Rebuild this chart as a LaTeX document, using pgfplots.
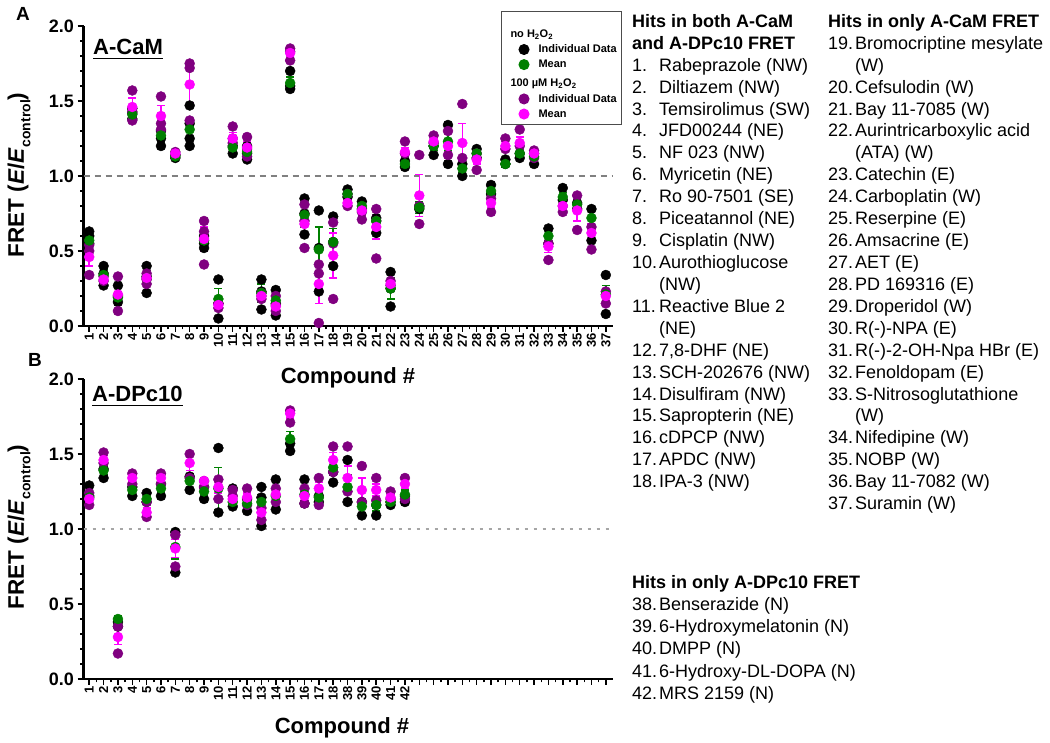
\documentclass[border=0pt]{standalone}
\usepackage{pgfplots}
\usepackage{pgfplotstable}
\pgfplotsset{compat=1.18}
\usepackage{fontspec}
\setmainfont{Liberation Sans}
\definecolor{mygreen}{RGB}{0,128,0}
\definecolor{mypurple}{RGB}{128,0,128}
\definecolor{mymag}{RGB}{255,0,255}

% ---------- Panel A data ----------
\pgfplotstableread{
x y
1 0.63
1 0.60
1 0.55
2 0.40
2 0.35
2 0.27
3 0.27
3 0.20
3 0.16
4 1.45
4 1.42
4 1.38
5 0.40
5 0.33
5 0.22
6 1.30
6 1.25
6 1.20
7 1.14
7 1.12
8 1.47
8 1.35
8 1.25
8 1.20
9 0.60
9 0.55
9 0.52
10 0.31
10 0.15
10 0.05
11 1.20
11 1.15
12 1.20
12 1.15
12 1.11
13 0.31
13 0.23
13 0.11
14 0.24
14 0.15
14 0.07
15 1.70
15 1.60
15 1.58
16 0.85
16 0.75
16 0.61
17 0.77
17 0.52
17 0.23
18 0.73
18 0.56
18 0.40
19 0.91
19 0.86
20 0.83
20 0.78
21 0.72
21 0.62
22 0.36
22 0.25
22 0.13
23 1.10
23 1.06
24 0.80
24 0.78
25 1.20
25 1.14
26 1.34
26 1.08
27 1.08
27 1.00
28 1.18
28 1.12
29 0.94
29 0.88
30 1.11
30 1.08
31 1.15
31 1.12
32 1.15
32 1.08
33 0.65
33 0.55
34 0.92
34 0.84
35 0.82
35 0.78
36 0.78
36 0.57
37 0.34
37 0.08
}\Ablack

\pgfplotstableread{
x y
1 0.54
1 0.50
1 0.34
2 0.33
2 0.30
3 0.33
3 0.20
3 0.10
4 1.57
4 1.43
4 1.37
5 0.35
5 0.31
5 0.28
6 1.53
6 1.35
6 1.31
7 1.16
7 1.14
8 1.75
8 1.72
8 1.37
9 0.70
9 0.63
9 0.41
10 0.15
10 0.12
11 1.33
11 1.25
11 1.22
12 1.26
12 1.18
12 1.13
13 0.22
13 0.20
13 0.18
14 0.20
14 0.14
14 0.10
15 1.85
15 1.83
15 1.77
16 0.81
16 0.70
16 0.52
17 0.41
17 0.35
17 0.02
18 0.69
18 0.55
18 0.18
19 0.88
19 0.80
20 0.76
20 0.71
21 0.78
21 0.70
21 0.45
22 0.30
22 0.27
23 1.23
23 1.15
24 1.14
24 0.80
24 0.68
25 1.27
25 1.22
26 1.30
26 1.14
27 1.48
27 1.12
28 1.15
28 1.04
29 0.85
29 0.76
30 1.25
30 1.18
31 1.31
31 1.20
32 1.17
32 1.12
33 0.55
33 0.44
34 0.80
34 0.76
35 0.87
35 0.64
36 0.66
36 0.51
37 0.23
37 0.15
}\Apurple

\pgfplotstableread{
x y e
1 0.57 0.03
2 0.34 0.04
3 0.19 0.04
4 1.41 0.03
5 0.32 0.05
6 1.27 0.04
7 1.13 0.01
8 1.31 0.07
9 0.57 0.03
10 0.18 0.07
11 1.19 0.03
12 1.16 0.02
13 0.22 0.06
14 0.17 0.05
15 1.62 0.04
16 0.74 0.08
17 0.51 0.15
18 0.56 0.09
19 0.88 0.02
20 0.80 0.02
21 0.70 0.04
22 0.25 0.07
23 1.08 0.02
24 0.79 0.04
25 1.20 0.03
26 1.23 0.06
27 1.05 0.03
28 1.15 0.03
29 0.90 0.03
30 1.08 0.02
31 1.15 0.03
32 1.13 0.02
33 0.60 0.04
34 0.86 0.03
35 0.81 0.03
36 0.72 0.06
37 0.21 0.06
}\Agreen

\pgfplotstableread{
x y e
1 0.46 0.06
2 0.31 0.02
3 0.21 0.07
4 1.46 0.06
5 0.32 0.03
6 1.40 0.07
7 1.15 0.01
8 1.61 0.12
9 0.58 0.08
10 0.14 0.02
11 1.25 0.04
12 1.19 0.04
13 0.20 0.02
14 0.13 0.03
15 1.82 0.02
16 0.68 0.08
17 0.28 0.13
18 0.47 0.15
19 0.82 0.02
20 0.77 0.03
21 0.66 0.08
22 0.28 0.02
23 1.16 0.03
24 0.87 0.14
25 1.23 0.02
26 1.20 0.05
27 1.22 0.13
28 1.11 0.03
29 0.82 0.03
30 1.20 0.03
31 1.22 0.04
32 1.15 0.02
33 0.53 0.04
34 0.80 0.03
35 0.77 0.07
36 0.62 0.06
37 0.20 0.03
}\Amag

% ---------- Panel B data (positions 1..23 = compounds 1-18, 38-42) ----------
\pgfplotstableread{
x y
1 1.29
1 1.22
2 1.40
2 1.34
3 0.38
3 0.35
4 1.28
4 1.22
5 1.24
5 1.18
6 1.30
6 1.22
7 0.98
7 0.71
8 1.35
8 1.26
9 1.28
9 1.20
10 1.54
10 1.11
11 1.27
11 1.15
12 1.20
12 1.12
13 1.28
13 1.21
13 1.02
14 1.33
14 1.13
15 1.57
15 1.52
16 1.33
16 1.17
17 1.22
17 1.18
18 1.38
18 1.31
19 1.46
19 1.18
20 1.18
20 1.09
21 1.16
21 1.09
22 1.18
22 1.16
23 1.22
23 1.18
}\Bblack

\pgfplotstableread{
x y
1 1.24
1 1.16
2 1.51
2 1.44
3 0.35
3 0.17
4 1.37
4 1.30
5 1.18
5 1.08
6 1.37
6 1.30
7 0.96
7 0.75
8 1.50
8 1.34
9 1.32
9 1.28
10 1.33
10 1.20
11 1.26
11 1.22
12 1.27
12 1.16
13 1.14
13 1.06
14 1.27
14 1.18
15 1.79
15 1.71
16 1.27
16 1.17
17 1.34
17 1.16
18 1.55
18 1.38
19 1.55
19 1.25
20 1.42
20 1.18
21 1.34
21 1.19
22 1.25
22 1.20
23 1.34
23 1.20
}\Bpurple

\pgfplotstableread{
x y e
1 1.21 0.03
2 1.39 0.03
3 0.40 0.02
4 1.26 0.02
5 1.20 0.03
6 1.27 0.02
7 0.88 0.08
8 1.32 0.05
9 1.25 0.02
10 1.27 0.14
11 1.18 0.03
12 1.17 0.03
13 1.18 0.05
14 1.22 0.04
15 1.60 0.05
16 1.23 0.04
17 1.21 0.02
18 1.41 0.05
19 1.28 0.08
20 1.15 0.04
21 1.16 0.04
22 1.18 0.02
23 1.23 0.03
}\Bgreen

\pgfplotstableread{
x y e
1 1.20 0.02
2 1.46 0.03
3 0.28 0.05
4 1.34 0.02
5 1.11 0.03
6 1.34 0.02
7 0.87 0.06
8 1.44 0.05
9 1.32 0.02
10 1.28 0.04
11 1.20 0.03
12 1.21 0.03
13 1.11 0.03
14 1.23 0.03
15 1.77 0.03
16 1.22 0.03
17 1.27 0.04
18 1.46 0.05
19 1.34 0.08
20 1.26 0.08
21 1.26 0.04
22 1.21 0.02
23 1.30 0.03
}\Bmag

\pgfplotsset{
  panel/.style={
    scale only axis, width=529.5pt, height=300pt,
    xmin=0.6, xmax=37.5, ymin=0, ymax=2,
    axis x line*=bottom, axis y line*=left,
    axis line style={line width=2.5pt,-},
    clip=false,
    /pgf/number format/assume math mode=true,
    xtick={1,...,37}, minor x tick num=1,
    ytick={0,0.5,1,1.5,2}, minor y tick num=4,
    tick align=outside, major tick length=6pt, minor tick length=3.5pt,
    every tick/.style={black, line width=1.5pt},
    x tick label style={rotate=90, anchor=east, font=\fontsize{13}{14}\selectfont\bfseries, inner sep=1pt},
    y tick label style={font=\fontsize{18}{20}\selectfont\bfseries},
    yticklabel style={/pgf/number format/.cd, fixed, fixed zerofill, precision=1, assume math mode=true},
  },
  indiv/.style={only marks, mark=*, mark size=5pt},
  meanbar/.style={only marks, mark=*, mark size=5pt,
    error bars/y dir=both, error bars/y explicit,
    error bars/error bar style={line width=1.5pt},
    error bars/error mark options={rotate=90, mark size=4pt, line width=1.5pt}},
  legimg/.style={only marks, mark=*, mark size=5pt,
    legend image code/.code={\path (-19pt,0pt) (12pt,0pt); \draw[##1] plot coordinates {(0pt,0pt)};}},
}

\newcommand{\LF}{\fontsize{18}{22}\selectfont}
\newcommand{\LI}[4]{% x, line, number, text
  \node[anchor=base west, inner sep=0pt, font=\LF] at (#1pt,{(715.6-(#2-1)*21.92)*1pt}) {#3};
  \node[anchor=base west, inner sep=0pt, font=\LF] at ({(#1+27)*1pt},{(715.6-(#2-1)*21.92)*1pt}) {#4};}
\newcommand{\LH}[3]{%
  \node[anchor=base west, inner sep=0pt, font=\LF\bfseries] at (#1pt,{(715.6-(#2-1)*21.92)*1pt}) {#3};}
\newcommand{\LB}[3]{% bottom list, j index
  \node[anchor=base west, inner sep=0pt, font=\LF] at (632pt,{(154.6-#1*22.2)*1pt}) {#2};
  \node[anchor=base west, inner sep=0pt, font=\LF] at (659pt,{(154.6-#1*22.2)*1pt}) {#3};}
\newcommand{\YL}{FRET (\textit{E}/\textit{E}\raisebox{-0.28em}{\fontsize{14}{14}\selectfont control})}

\begin{document}
\begin{tikzpicture}
\useasboundingbox (0pt,0pt) rectangle (1050pt,743pt);

% ---------------- Panel A ----------------
\begin{axis}[panel, at={(83.5pt,417pt)}, anchor=south west,
  legend style={at={(0.7885,1.05)}, anchor=north west, draw=black!70, line width=1pt,
    font=\fontsize{11}{12}\selectfont\bfseries, row sep=1.8pt, inner xsep=3pt, inner ysep=4pt,
    cells={anchor=west}},
  legend cell align=left]
  \addplot[forget plot, gray, line width=1.5pt, dash pattern=on 6pt off 5pt] coordinates {(0.6,1) (37.5,1)};
  \addplot[forget plot, black, indiv] table[x=x,y=y] {\Ablack};
  \addplot[forget plot, mypurple, indiv] table[x=x,y=y] {\Apurple};
  \addplot[forget plot, mygreen, meanbar] table[x=x,y=y,y error=e] {\Agreen};
  \addplot[forget plot, mymag, meanbar] table[x=x,y=y,y error=e] {\Amag};
  \addlegendimage{empty legend}
  \addlegendentry{\hspace*{-28pt}\rule{0pt}{20pt}no H\textsubscript{2}O\textsubscript{2}}
  \addlegendimage{legimg, black}
  \addlegendentry{Individual Data}
  \addlegendimage{legimg, mygreen}
  \addlegendentry{Mean}
  \addlegendimage{empty legend}
  \addlegendentry{\hspace*{-28pt}\rule{0pt}{12pt}100 µM H\textsubscript{2}O\textsubscript{2}}
  \addlegendimage{legimg, mypurple}
  \addlegendentry{Individual Data}
  \addlegendimage{legimg, mymag}
  \addlegendentry{Mean}
\end{axis}

% ---------------- Panel B ----------------
\begin{axis}[panel, at={(83.5pt,64pt)}, anchor=south west,
  xticklabels={1,2,3,4,5,6,7,8,9,10,11,12,13,14,15,16,17,18,38,39,40,41,42,{},{},{},{},{},{},{},{},{},{},{},{},{},{},{}},
  ]
  \addplot[black!35, line width=2pt, dash pattern=on 3pt off 6pt] coordinates {(0.6,1) (37.5,1)};
  \addplot[black, indiv] table[x=x,y=y] {\Bblack};
  \addplot[mypurple, indiv] table[x=x,y=y] {\Bpurple};
  \addplot[mygreen, meanbar] table[x=x,y=y,y error=e] {\Bgreen};
  \addplot[mymag, meanbar] table[x=x,y=y,y error=e] {\Bmag};
\end{axis}

% ---------------- labels ----------------
\node[anchor=base west, inner sep=0pt, font=\fontsize{19}{20}\selectfont\bfseries] at (16pt,722pt) {A};
\node[anchor=base west, inner sep=0pt, font=\fontsize{19}{20}\selectfont\bfseries] at (28pt,376pt) {B};

\node[rotate=90, anchor=base, inner sep=0pt, font=\fontsize{22.5}{24}\selectfont\bfseries] at (24pt,568pt) {\YL};
\node[rotate=90, anchor=base, inner sep=0pt, font=\fontsize{22.5}{24}\selectfont\bfseries] at (24pt,216pt) {\YL};

\node[anchor=base west, inner sep=0pt, font=\fontsize{22}{24}\selectfont\bfseries] (ta) at (93pt,688pt) {A-CaM};
\draw[line width=1.6pt] ([yshift=-3.5pt]ta.base west) -- ([yshift=-3.5pt]ta.base east);
\node[anchor=base west, inner sep=0pt, font=\fontsize{22}{24}\selectfont\bfseries] (tb) at (92pt,341pt) {A-DPc10};
\draw[line width=1.6pt] ([yshift=-3.5pt]tb.base west) -- ([yshift=-3.5pt]tb.base east);

\node[font=\fontsize{22}{24}\selectfont\bfseries] at (348pt,365pt) {Compound \#};
\node[font=\fontsize{22}{24}\selectfont\bfseries] at (342pt,15pt) {Compound \#};

% ---------------- compound lists ----------------
\LH{632}{1}{Hits in both A-CaM}
\LH{632}{2}{and A-DPc10 FRET}
\LI{632}{3}{1.}{Rabeprazole (NW)}
\LI{632}{4}{2.}{Diltiazem (NW)}
\LI{632}{5}{3.}{Temsirolimus (SW)}
\LI{632}{6}{4.}{JFD00244 (NE)}
\LI{632}{7}{5.}{NF 023 (NW)}
\LI{632}{8}{6.}{Myricetin (NE)}
\LI{632}{9}{7.}{Ro 90-7501 (SE)}
\LI{632}{10}{8.}{Piceatannol (NE)}
\LI{632}{11}{9.}{Cisplatin (NW)}
\LI{632}{12}{10.}{Aurothioglucose}
\LI{632}{13}{}{(NW)}
\LI{632}{14}{11.}{Reactive Blue 2}
\LI{632}{15}{}{(NE)}
\LI{632}{16}{12.}{7,8-DHF (NE)}
\LI{632}{17}{13.}{SCH-202676 (NW)}
\LI{632}{18}{14.}{Disulfiram (NW)}
\LI{632}{19}{15.}{Sapropterin (NE)}
\LI{632}{20}{16.}{cDPCP (NW)}
\LI{632}{21}{17.}{APDC (NW)}
\LI{632}{22}{18.}{IPA-3 (NW)}

\LH{828}{1}{Hits in only A-CaM FRET}
\LI{828}{2}{19.}{Bromocriptine mesylate}
\LI{828}{3}{}{(W)}
\LI{828}{4}{20.}{Cefsulodin (W)}
\LI{828}{5}{21.}{Bay 11-7085 (W)}
\LI{828}{6}{22.}{Aurintricarboxylic acid}
\LI{828}{7}{}{(ATA) (W)}
\LI{828}{8}{23.}{Catechin (E)}
\LI{828}{9}{24.}{Carboplatin (W)}
\LI{828}{10}{25.}{Reserpine (E)}
\LI{828}{11}{26.}{Amsacrine (E)}
\LI{828}{12}{27.}{AET (E)}
\LI{828}{13}{28.}{PD 169316 (E)}
\LI{828}{14}{29.}{Droperidol (W)}
\LI{828}{15}{30.}{R(-)-NPA (E)}
\LI{828}{16}{31.}{R(-)-2-OH-Npa HBr (E)}
\LI{828}{17}{32.}{Fenoldopam (E)}
\LI{828}{18}{33.}{S-Nitrosoglutathione}
\LI{828}{19}{}{(W)}
\LI{828}{20}{34.}{Nifedipine (W)}
\LI{828}{21}{35.}{NOBP (W)}
\LI{828}{22}{36.}{Bay 11-7082 (W)}
\LI{828}{23}{37.}{Suramin (W)}

\node[anchor=base west, inner sep=0pt, font=\LF\bfseries] at (632pt,154.6pt) {Hits in only A-DPc10 FRET};
\LB{1}{38.}{Benserazide (N)}
\LB{2}{39.}{6-Hydroxymelatonin (N)}
\LB{3}{40.}{DMPP (N)}
\LB{4}{41.}{6-Hydroxy-DL-DOPA (N)}
\LB{5}{42.}{MRS 2159 (N)}
\end{tikzpicture}
\end{document}
